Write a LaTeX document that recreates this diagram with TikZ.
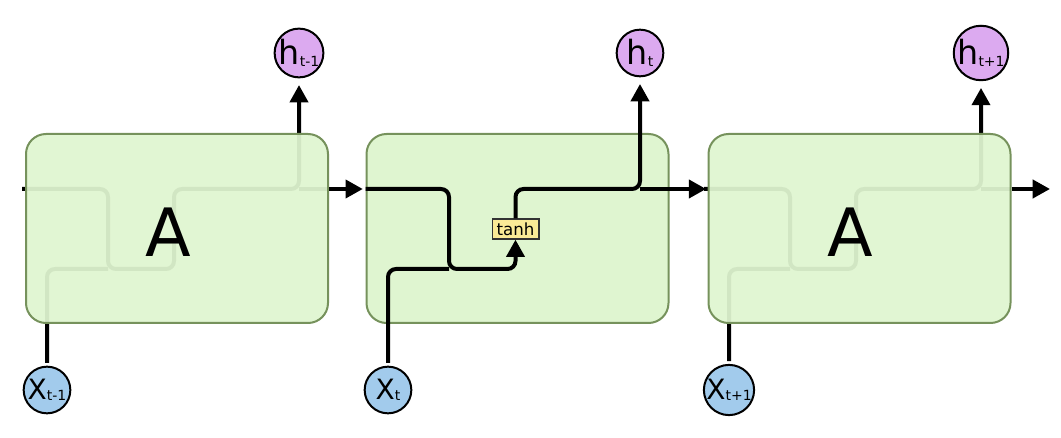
\documentclass[tikz,border=0pt]{standalone}
\usepackage{fontspec}
\setmainfont{DejaVu Sans}
\usetikzlibrary{arrows.meta}
\definecolor{boxfill}{RGB}{223,245,208}
\definecolor{boxdraw}{RGB}{118,146,92}
\definecolor{hfill}{RGB}{220,170,240}
\definecolor{xfill}{RGB}{162,203,236}
\definecolor{tanhfill}{RGB}{250,234,150}
\newcommand\labH[2]{{\fontsize{25}{25}\selectfont #1}\raisebox{-1.5pt}{\fontsize{10.5}{11}\selectfont #2}}
\newcommand\labX[2]{{\fontsize{21}{21}\selectfont #1}\raisebox{-1pt}{\fontsize{10.5}{11}\selectfont #2}}
\begin{document}
\begin{tikzpicture}[x=0.75pt,y=-0.75pt,
 wire/.style={line width=3pt},
 arr/.style={-{Triangle[length=13pt,width=13.5pt]}},
 cell/.style={draw=boxdraw,line width=1.5pt,fill=boxfill,rounded corners=15pt,minimum width=226.5pt,minimum height=141.75pt,inner sep=0pt},
 ghostcell/.style={cell,fill opacity=0.94},
 hnode/.style={circle,draw,line width=1.5pt,fill=hfill,minimum size=35pt,inner sep=0pt},
 xnode/.style={circle,draw,line width=1.5pt,fill=xfill,minimum size=35pt,inner sep=0pt},
 tanhbox/.style={draw=black!80,line width=1pt,fill=tanhfill,minimum width=35pt,minimum height=15pt,inner sep=0pt,font=\fontsize{12.5}{13}\selectfont},
 bigA/.style={font=\fontsize{50}{50}\selectfont},
 rc/.style={rounded corners=6pt}]
\useasboundingbox (0,0) rectangle (1061,438);

% circles
\node[hnode] (h1) at (299,53) {\labH{h}{t-1}};
\node[hnode] (h2) at (640,53) {\labH{h}{t}};
\node[hnode] (h3) at (981,53) {\labH{h}{t+1}};
\node[xnode] (x1) at (47,390) {\labX{X}{t-1}};
\node[xnode] (x2) at (388,390) {\labX{X}{t}};
\node[xnode] (x3) at (729,390) {\labX{X}{t+1}};

% coordinates
\coordinate (in1) at (22,189);
\coordinate (k1) at (108,269);
\coordinate (m1) at (174,269);
\coordinate (tb1) at (174,240);
\coordinate (tt1) at (174,219);
\coordinate (j1) at (299,189);
\coordinate (e1) at (328,189);
\coordinate (k2) at (449,269);
\coordinate (m2) at (515.5,269);
\coordinate (j2) at (640,189);
\coordinate (in3) at (704,189);
\coordinate (k3) at (790,269);
\coordinate (m3) at (856,269);
\coordinate (tb3) at (856,240);
\coordinate (tt3) at (856,219);
\coordinate (j3) at (981,189);
\coordinate (e3) at (1011,189);
\coordinate (out3) at (1050,189);

% ghost lines of cell 1
\draw[wire,rc] (in1) -| (k1) -- (m1) -- (tb1);
\draw[wire,rc,shorten <=2pt] (x1.north) |- (k1);
\draw[wire,rc,arr,shorten >=5pt] (tt1) |- (j1) -- (h1.south);
\draw[wire] (j1) -- (e1);
\node[ghostcell] (B1) at (177,228.5) {};
\node[bigA] (A1) at (168,232) {A};

% middle cell box
\node[cell] (B2) at (517.5,228.5) {};

% ghost lines of cell 3
\draw[wire,rc] (in3) -| (k3) -- (m3) -- (tb3);
\draw[wire,rc,shorten <=2pt] (x3.north) |- (k3);
\draw[wire,rc,arr,shorten >=5pt] (tt3) |- (j3) -- (h3.south);
\draw[wire] (j3) -- (e3);
\node[ghostcell] (B3) at (859.5,228.5) {};
\node[bigA] (A3) at (850,232) {A};

% visible connectors
\draw[wire,arr,shorten >=2pt] (B1.east |- j1) -- (B2.west |- j1);
\node[tanhbox] (T2) at (515.5,229) {tanh};
\draw[wire,rc,arr] (B2.west |- j1) -| (k2) -- (m2) -- (T2.south);
\draw[wire,rc,shorten <=2pt] (x2.north) |- (k2);
\draw[wire,rc,arr,shorten >=5pt] (T2.north) |- (j2) -- (h2.south);
\draw[wire,arr,shorten >=1pt] (j2) -- (B3.west |- j2);
\draw[wire,arr] (B3.east |- j3) -- (out3);
\end{tikzpicture}
\end{document}
